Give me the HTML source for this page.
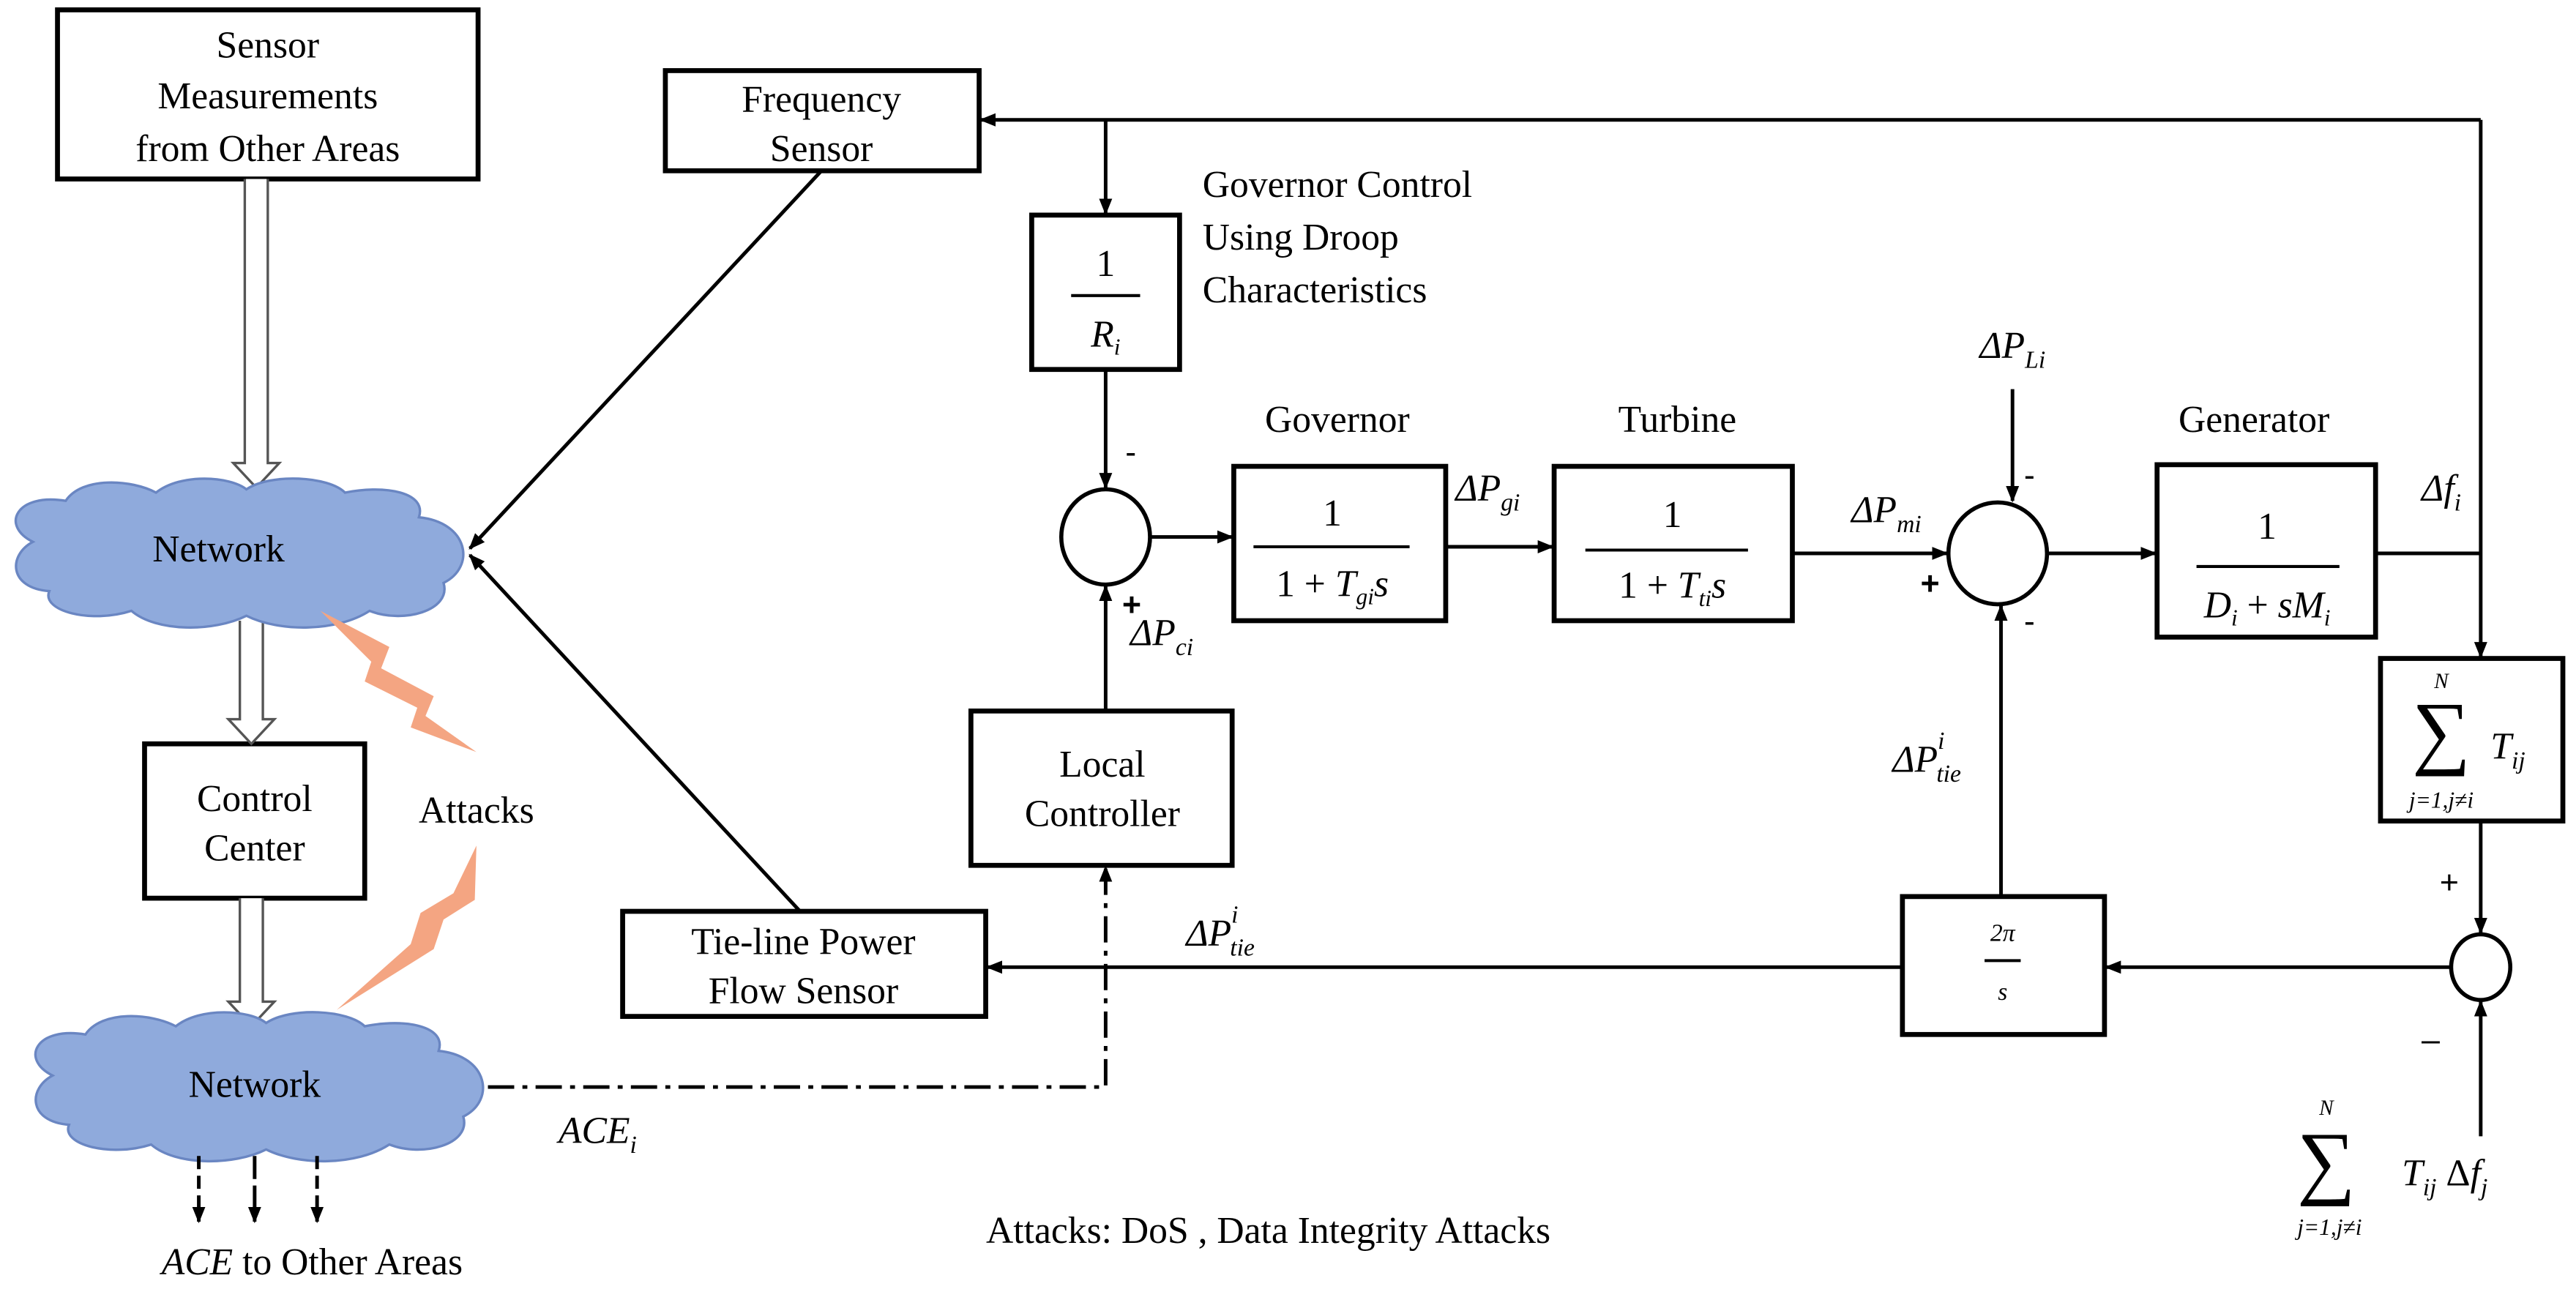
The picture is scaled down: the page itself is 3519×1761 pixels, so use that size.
<!DOCTYPE html>
<html><head><meta charset="utf-8"><style>html,body{margin:0;padding:0;background:#fff}svg{display:block}</style></head>
<body>
<svg width="3519" height="1761" viewBox="0 0 1568 785" preserveAspectRatio="none" xmlns="http://www.w3.org/2000/svg" font-family="Liberation Serif, serif" font-size="23">
<defs>
<marker id="a" markerWidth="10" markerHeight="10" refX="9" refY="5" orient="auto" markerUnits="userSpaceOnUse"><path d="M0,1 L10,5 L0,9 z" fill="#000"/></marker>
</defs>
<rect width="1568" height="785" fill="#fff"/>
<g fill="none" stroke="#000" stroke-width="3">
<rect x="35" y="6" width="256" height="103"/>
<rect x="405" y="43" width="191" height="61"/>
<rect x="88" y="453" width="134" height="94"/>
<rect x="379" y="555" width="221" height="64"/>
<rect x="628" y="131" width="90" height="94"/>
<rect x="751" y="284" width="129" height="94"/>
<rect x="946" y="284" width="145" height="94"/>
<rect x="1313" y="283" width="133" height="105"/>
<rect x="1449" y="401" width="111" height="99"/>
<rect x="591" y="433" width="159" height="94"/>
<rect x="1158" y="546" width="123" height="84"/>
<ellipse cx="673" cy="327" rx="27" ry="29" stroke-width="2.5"/>
<ellipse cx="1216" cy="337" rx="30" ry="31" stroke-width="2.5"/>
<ellipse cx="1510" cy="589" rx="18" ry="20" stroke-width="2.5"/>
</g>
<g fill="#fff" stroke="#555" stroke-width="1.5">
<path d="M149,109 V282 H142 L156,297 L170,282 H163 V109"/>
<path d="M146,378 V438 H139 L153,453 L167,438 H160 V378"/>
<path d="M146,547 V610 H139 L153,625 L167,610 H160 V547"/>
</g>
<g fill="#8faadc" stroke="#6a86c2" stroke-width="1.5">
<path d="M20,330 C0,320 10,300 40,305 C50,290 80,292 95,300 C110,288 140,290 150,298 C165,288 200,290 210,300 C235,295 260,300 255,315 C285,318 290,345 270,355 C275,372 245,380 225,372 C205,385 170,385 150,375 C130,385 95,385 80,372 C55,380 25,372 30,360 C5,358 5,338 20,330 Z"/>
<path d="M32,655 C12,645 22,625 52,630 C62,615 92,617 107,625 C122,613 152,615 162,623 C177,613 212,615 222,625 C247,620 272,625 267,640 C297,643 302,670 282,680 C287,697 257,705 237,697 C217,710 182,710 162,700 C142,710 107,710 92,697 C67,705 37,697 42,685 C17,683 17,663 32,655 Z"/>
</g>
<g fill="#f4a582">
<path d="M195,372 L237,394 L232,407 L264,424 L259,436 L290,458 L250,443 L254,431 L222,415 L226,403 Z"/>
<path d="M290,515 L289,548 L270,560 L264,578 L205,615 L250,575 L256,556 L276,544 Z"/>
</g>
<g fill="none" stroke="#000" stroke-width="2.2">
<path d="M500,104 L286,334" marker-end="url(#a)"/>
<path d="M487,555 L286,338" marker-end="url(#a)"/>
<path d="M1510,73 H597" marker-end="url(#a)"/>
<path d="M1510,73 V400" marker-end="url(#a)"/>
<path d="M673,73 V130" marker-end="url(#a)"/>
<path d="M673,225 V297" marker-end="url(#a)"/>
<path d="M700,327 H750" marker-end="url(#a)"/>
<path d="M880,333 H945" marker-end="url(#a)"/>
<path d="M1091,337 H1185" marker-end="url(#a)"/>
<path d="M1225,237 V305" marker-end="url(#a)"/>
<path d="M1246,337 H1312" marker-end="url(#a)"/>
<path d="M1446,337 H1510"/>
<path d="M1510,500 V568" marker-end="url(#a)"/>
<path d="M1510,692 V610" marker-end="url(#a)"/>
<path d="M1492,589 H1282" marker-end="url(#a)"/>
<path d="M1218,546 V369" marker-end="url(#a)"/>
<path d="M1158,589 H601" marker-end="url(#a)"/>
<path d="M673,433 V357" marker-end="url(#a)"/>
<path d="M297,662 H673 V528" stroke-dasharray="16,5,3,5" marker-end="url(#a)"/>
<path d="M121,704 V744" stroke-dasharray="8,4" marker-end="url(#a)"/>
<path d="M155,704 V744" stroke-dasharray="14,4" marker-end="url(#a)"/>
<path d="M193,704 V744" stroke-dasharray="8,4" marker-end="url(#a)"/>
</g>
<g stroke="#000" stroke-width="1.8">
<line x1="652" y1="180" x2="694" y2="180"/>
<line x1="763" y1="333" x2="858" y2="333"/>
<line x1="965" y1="335" x2="1064" y2="335"/>
<line x1="1337" y1="345" x2="1424" y2="345"/>
<line x1="1208" y1="585" x2="1230" y2="585"/>
</g>
<g text-anchor="middle" fill="#000">
<text x="163" y="35">Sensor</text>
<text x="163" y="66">Measurements</text>
<text x="163" y="98">from Other Areas</text>
<text x="500" y="68">Frequency</text>
<text x="500" y="98">Sensor</text>
<text x="133" y="342">Network</text>
<text x="155" y="668">Network</text>
<text x="155" y="494">Control</text>
<text x="155" y="524">Center</text>
<text x="290" y="501">Attacks</text>
<text x="489" y="581">Tie-line Power</text>
<text x="489" y="611">Flow Sensor</text>
<text x="671" y="473">Local</text>
<text x="671" y="503">Controller</text>
<text x="814" y="263">Governor</text>
<text x="1021" y="263">Turbine</text>
<text x="1372" y="263">Generator</text>
<text x="673" y="168">1</text>
<text x="673" y="211" font-style="italic">R<tspan font-size="14" dy="5">i</tspan></text>
<text x="811" y="320">1</text>
<text x="811" y="363">1 + <tspan font-style="italic">T<tspan font-size="14" dy="5">gi</tspan><tspan dy="-5">s</tspan></tspan></text>
<text x="1018" y="321">1</text>
<text x="1018" y="364">1 + <tspan font-style="italic">T<tspan font-size="14" dy="5">ti</tspan><tspan dy="-5">s</tspan></tspan></text>
<text x="1380" y="328">1</text>
<text x="1380" y="376" font-style="italic">D<tspan font-size="14" dy="5">i</tspan><tspan dy="-5" font-style="normal"> + </tspan>sM<tspan font-size="14" dy="5">i</tspan></text>
<text x="1219" y="573" font-size="15" font-style="italic">2π</text>
<text x="1219" y="609" font-size="15" font-style="italic">s</text>
<text x="772" y="757">Attacks: DoS , Data Integrity Attacks</text>
<text x="190" y="776"><tspan font-style="italic">ACE</tspan> to Other Areas</text>
</g>
<g fill="#000" font-style="italic">
<text x="732" y="120" font-style="normal">Governor  Control</text>
<text x="732" y="152" font-style="normal">Using Droop</text>
<text x="732" y="184" font-style="normal">Characteristics</text>
<text x="886" y="305">ΔP<tspan font-size="15" dy="6">gi</tspan></text>
<text x="1127" y="318">ΔP<tspan font-size="15" dy="6">mi</tspan></text>
<text x="1205" y="218">ΔP<tspan font-size="15" dy="6">Li</tspan></text>
<text x="1474" y="305">Δf<tspan font-size="15" dy="6">i</tspan></text>
<text x="688" y="393">ΔP<tspan font-size="15" dy="6">ci</tspan></text>
<text x="1152" y="470">ΔP<tspan font-size="15" dy="-14">i</tspan><tspan font-size="15" dx="-5" dy="20">tie</tspan></text>
<text x="722" y="576">ΔP<tspan font-size="15" dy="-14">i</tspan><tspan font-size="15" dx="-5" dy="20">tie</tspan></text>
<text x="340" y="696">ACE<tspan font-size="15" dy="6">i</tspan></text>
<text x="1516" y="462">T<tspan font-size="15" dy="6">ij</tspan></text>
<text x="1462" y="722">T<tspan font-size="15" dy="6">ij</tspan><tspan dy="-6" font-style="normal"> Δ</tspan>f<tspan font-size="15" dy="6">j</tspan></text>
<text x="1486" y="419" font-size="13" text-anchor="middle">N</text>
<text x="1486" y="492" font-size="14" text-anchor="middle">j=1,j≠i</text>
<text x="1416" y="679" font-size="13" text-anchor="middle">N</text>
<text x="1418" y="752" font-size="14" text-anchor="middle">j=1,j≠i</text>
</g>
<g fill="#000" font-size="50" text-anchor="middle">
<text x="1486" y="462">∑</text>
<text x="1416" y="724">∑</text>
</g>
<g fill="#000" font-size="20" font-family="Liberation Sans, sans-serif">
<text x="685" y="282">-</text>
<text x="683" y="375" font-weight="bold">+</text>
<text x="1232" y="296">-</text>
<text x="1169" y="362" font-weight="bold">+</text>
<text x="1232" y="385">-</text>
<text x="1485" y="544">+</text>
<text x="1474" y="640">–</text>
</g>
</svg>
</body></html>
